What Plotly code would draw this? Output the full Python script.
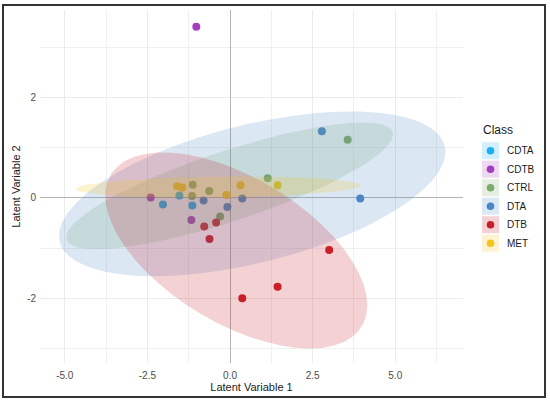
import numpy as np
import plotly.graph_objects as go

# class labels and colours (ggplot-ish palette)
classes = ["CDTA", "CDTB", "CTRL", "DTA", "DTB", "MET"]
colors = ["#1AAFEF", "#A33FBF", "#7EAA6A", "#4A86C5", "#C8202A", "#F6C31A"]

# latent variable scores
cdta_x = [-2.03, -1.53, -1.14]
cdta_y = [-0.13, 0.05, -0.15]
cdtb_x = [-1.02, -2.40, -1.17]
cdtb_y = [3.41, 0.01, -0.44]
ctrl_x = [-1.13, -1.15, -0.63, -0.30, 1.14, 3.56]
ctrl_y = [0.26, 0.04, 0.14, -0.37, 0.39, 1.16]
dta_x = [-0.80, -0.08, 0.37, 2.78, 3.94]
dta_y = [-0.05, -0.18, -0.01, 1.33, -0.01]
dtb_x = [-0.78, -0.42, -0.62, 3.00, 1.44, 0.37]
dtb_y = [-0.57, -0.49, -0.82, -1.04, -1.77, -2.00]
met_x = [-1.60, -1.44, -0.11, 0.32, 1.44]
met_y = [0.23, 0.21, 0.06, 0.25, 0.25]

xs = [cdta_x, cdtb_x, ctrl_x, dta_x, dtb_x, met_x]
ys = [cdta_y, cdtb_y, ctrl_y, dta_y, dtb_y, met_y]

# only these groups get an ellipse in the original
ellipse_classes = ["CTRL", "DTA", "DTB", "MET"]

x_ticks = [-5.0, -2.5, 0.0, 2.5, 5.0]
x_ticklabels = ["-5.0", "-2.5", "0.0", "2.5", "5.0"]
y_ticks = [-2, 0, 2]
y_ticklabels = ["-2", "0", "2"]


def rgba(hex_color, a):
    h = hex_color.lstrip("#")
    r, g, b = (int(h[i:i + 2], 16) for i in (0, 2, 4))
    return f"rgba({r},{g},{b},{a})"


def cov_trob(pts, nu=5, maxit=25, tol=0.01):
    # port of MASS::cov.trob (what stat_ellipse uses for type="t")
    x = np.asarray(pts, float)
    n, p = x.shape
    wt = np.ones(n)
    loc = x.mean(axis=0)
    w = np.sqrt(wt)
    for _ in range(maxit):
        w0 = w
        X = x - loc
        _, d, vt = np.linalg.svd(np.sqrt(w / w.sum())[:, None] * X, full_matrices=False)
        wX = X @ vt.T @ np.diag(1 / d)
        Q = (wX ** 2).sum(axis=1)
        w = (wt * (nu + p)) / (nu + Q)
        loc = (w[:, None] * x).sum(axis=0) / w.sum()
        if np.all(np.abs(w - w0) < tol):
            break
    sw = np.sqrt(w)[:, None] * X
    return sw.T @ sw / wt.sum(), loc


def stat_ellipse(px, py, level=0.95, segments=51):
    pts = np.column_stack([px, py])
    shape, center = cov_trob(pts)
    dfn, dfd = 2, len(px) - 1
    # qf(level, 2, dfd) has a closed form
    qf = dfd / 2 * ((1 - level) ** (-2 / dfd) - 1)
    radius = np.sqrt(dfn * qf)
    ang = np.arange(segments + 1) * 2 * np.pi / segments
    circle = np.column_stack([np.cos(ang), np.sin(ang)])
    chol = np.linalg.cholesky(shape).T
    e = center + radius * circle @ chol
    return e[:, 0], e[:, 1]


fig = go.Figure()

# points first, ellipses go on top (as in the ggplot original)
for name, col, x, y in zip(classes, colors, xs, ys):
    fig.add_trace(go.Scatter(
        x=x, y=y, mode="markers", name=name, showlegend=False,
        marker=dict(color=col, size=8, line_width=0),
    ))

for name, col, x, y in zip(classes, colors, xs, ys):
    if name not in ellipse_classes:
        continue
    ex, ey = stat_ellipse(x, y)
    fig.add_trace(go.Scatter(
        x=ex, y=ey, mode="lines", fill="toself", showlegend=False,
        fillcolor=rgba(col, 0.2), line=dict(width=0), hoverinfo="skip",
    ))

W, H = 550, 402
ML, MR, MT, MB = 40, 87, 10, 39
PW, PH = W - ML - MR, H - MT - MB


def px_x(p):
    return (p - ML) / PW


def px_y(p):
    return (H - MB - p) / PH


shapes = [
    # outer frame round the whole picture
    dict(type="rect", xref="paper", yref="paper",
         x0=px_x(3), x1=px_x(545), y0=px_y(397), y1=px_y(5),
         line=dict(color="#333333", width=2), fillcolor="rgba(0,0,0,0)"),
]
annotations = [
    dict(text="Class", xref="paper", yref="paper", x=px_x(481), y=px_y(130),
         xanchor="left", yanchor="middle", showarrow=False,
         font=dict(size=12, color="#1a1a1a")),
]

# hand-built legend so the keys look like ggplot's (filled square + dot)
for i, (name, col) in enumerate(zip(classes, colors)):
    cy = 150.7 + 18.5 * i
    shapes.append(dict(type="rect", xref="paper", yref="paper",
                       x0=px_x(482), x1=px_x(499), y0=px_y(cy + 8.5), y1=px_y(cy - 8.5),
                       line_width=0, fillcolor=rgba(col, 0.2)))
    shapes.append(dict(type="circle", xref="paper", yref="paper",
                       xsizemode="pixel", ysizemode="pixel",
                       xanchor=px_x(490.5), yanchor=px_y(cy),
                       x0=-3.8, x1=3.8, y0=-3.8, y1=3.8,
                       line_width=0, fillcolor=col))
    annotations.append(dict(text=name, xref="paper", yref="paper",
                            x=px_x(505), y=px_y(cy), xanchor="left", yanchor="middle",
                            showarrow=False, font=dict(size=10, color="#1a1a1a")))

grid = dict(showgrid=True, gridcolor="#EBEBEB", gridwidth=1,
            zeroline=True, zerolinecolor="#B5B5B5", zerolinewidth=1,
            showline=False, ticks="", tickfont=dict(size=10, color="#4D4D4D"))

fig.update_layout(
    width=W, height=H,
    margin=dict(l=ML, r=MR, t=MT, b=MB),
    paper_bgcolor="white", plot_bgcolor="white",
    font=dict(family="Arial, Liberation Sans, sans-serif"),
    showlegend=False,
    xaxis=dict(range=[-5.75, 7.05], tickvals=x_ticks, ticktext=x_ticklabels,
               ticklabelstandoff=5,
               minor=dict(dtick=1.25, tick0=-5, showgrid=True, gridcolor="#F0F0F0", gridwidth=0.6),
               title=dict(text="Latent Variable 1", font=dict(size=11, color="#1a1a1a"), standoff=3),
               **grid),
    yaxis=dict(range=[-3.29, 3.745], tickvals=y_ticks, ticktext=y_ticklabels,
               ticklabelstandoff=3,
               minor=dict(dtick=1, tick0=-3, showgrid=True, gridcolor="#F0F0F0", gridwidth=0.6),
               title=dict(text="Latent Variable 2", font=dict(size=11, color="#1a1a1a"), standoff=4),
               **grid),
    shapes=shapes,
    annotations=annotations,
)

# the page body has an 8px default margin; drop it so the figure sits at 0,0
fig.write_html("out.html", config={"displayModeBar": False},
               post_script="document.body.style.margin='0px';")
